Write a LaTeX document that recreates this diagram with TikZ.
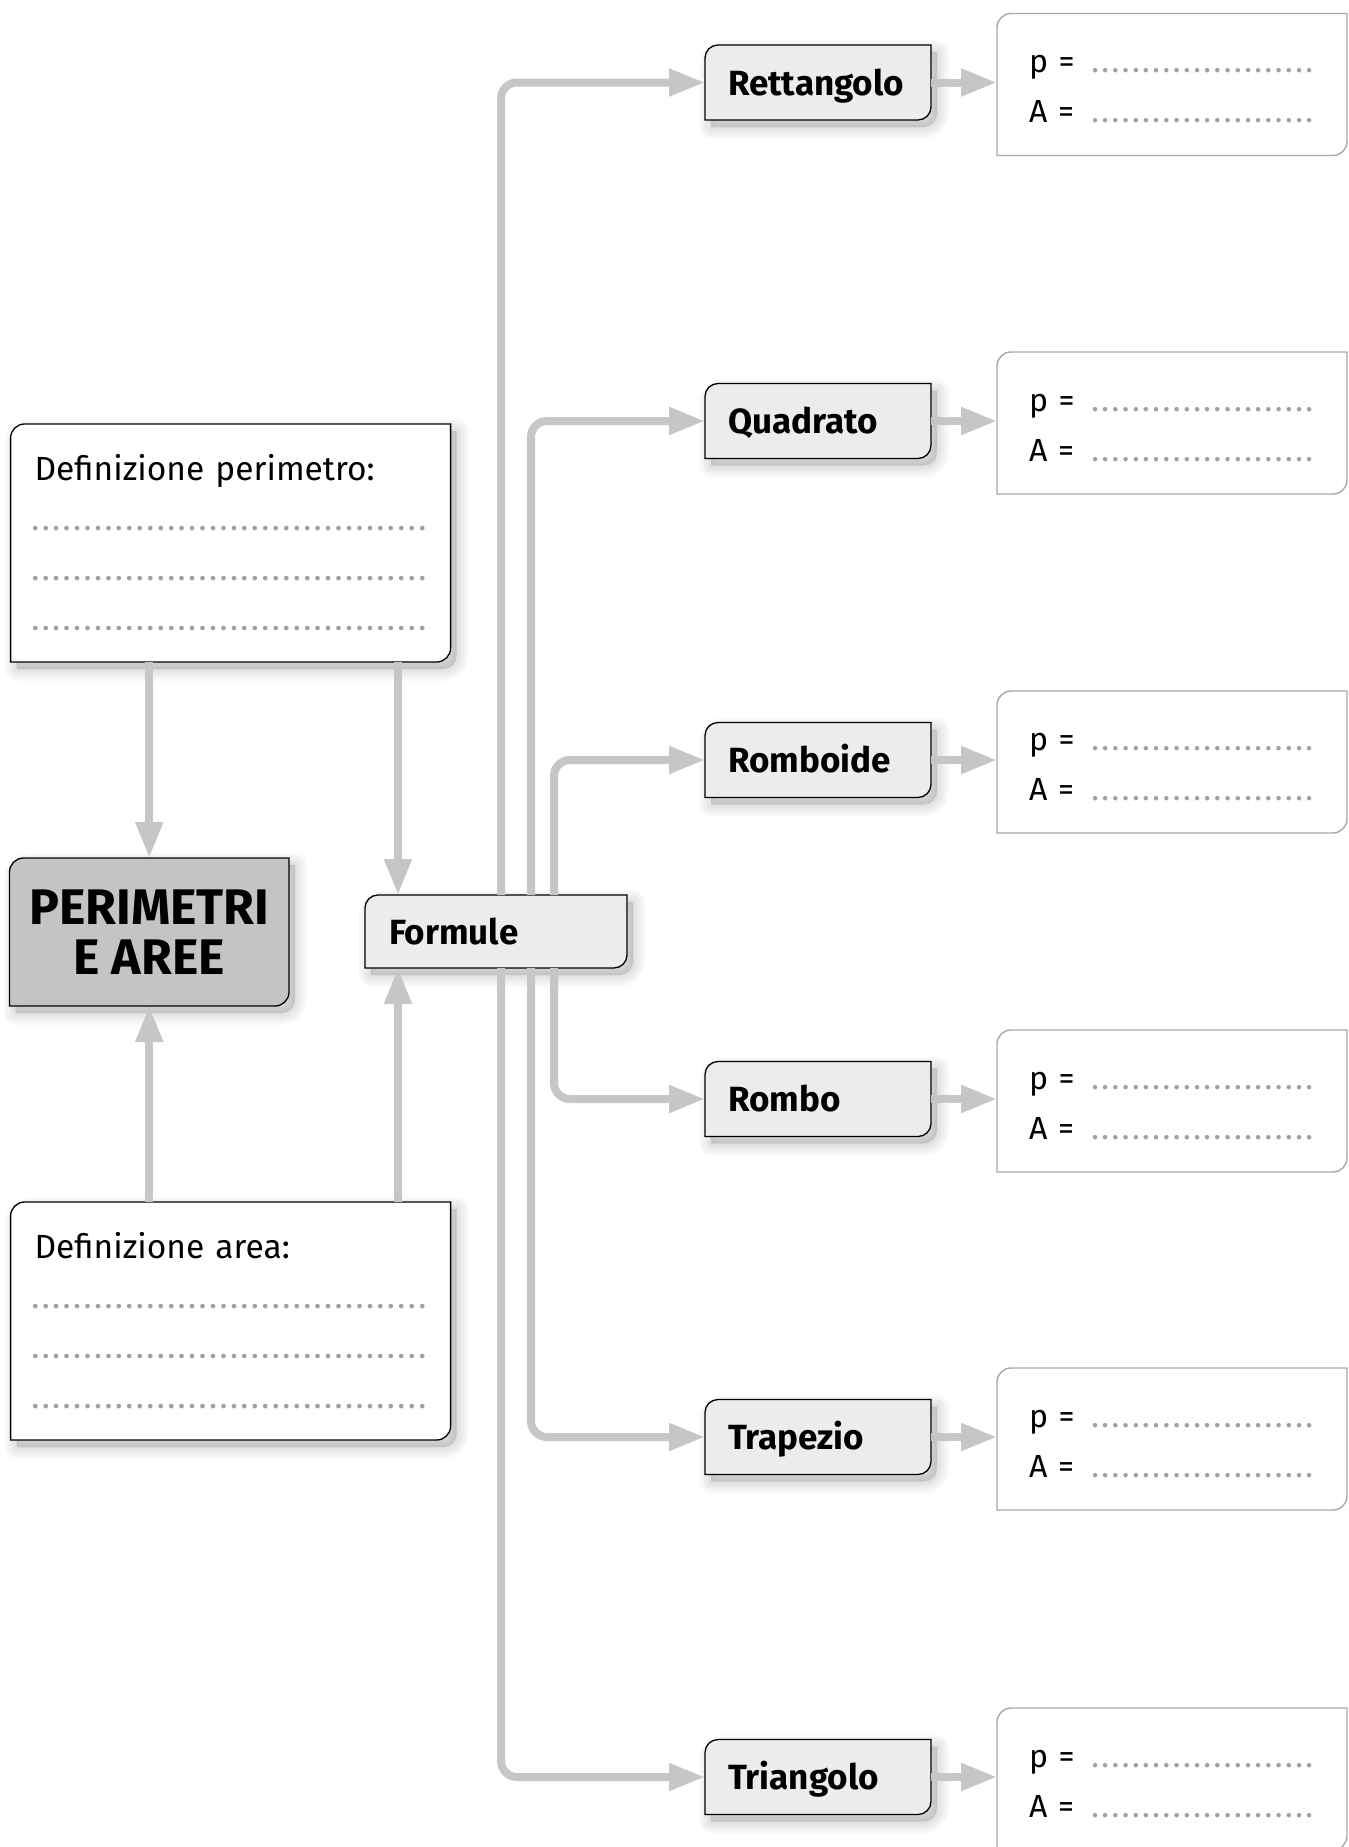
\documentclass[tikz,border=0pt]{standalone}
\usepackage{fontspec}
\setmainfont{Fira Sans}
\usetikzlibrary{arrows.meta,calc,backgrounds}

\definecolor{linkgray}{HTML}{C6C6C6}
\definecolor{shapefill}{HTML}{ECECEC}
\definecolor{titlefill}{HTML}{C4C4C4}
\definecolor{resborder}{HTML}{A8A8A8}
\definecolor{dotgray}{HTML}{A0A0A0}

% dotted writing line: [dot pitch]{length}
\newcommand\dotrule[2][10.2pt]{\leavevmode\hbox to #2{\color{dotgray}\leaders\hbox to #1{\hss.\hss}\hfil}}

% box outline with rounded top-left and bottom-right corners
% #1 path options, #2 node, #3 corner radius, #4 dx, #5 dy
\newcommand\cutbox[5]{%
  \path[#1] ([shift={(#4,#5)}]#2.south west)
    -- ([shift={(#4,#5-#3)}]#2.north west)
    arc[start angle=180,end angle=90,radius=#3]
    -- ([shift={(#4,#5)}]#2.north east)
    -- ([shift={(#4,#5+#3)}]#2.south east)
    arc[start angle=0,end angle=-90,radius=#3]
    -- cycle;}

% soft shadow under a box
\newcommand\softshadow[2]{%
  \foreach \w in {24,19,14,9,4}{%
    \cutbox{fill=black,draw=black,line width=\w pt,opacity=0.022,line join=round}{#1}{#2}{6pt}{-7pt}}}

\tikzset{
  box/.style={draw=none,outer sep=0pt,rectangle},
  shapebox/.style={box,minimum width=226pt,minimum height=75pt,inner xsep=23pt,
    text width=180pt,text height=33pt,text depth=8pt,align=left,
    font=\fontsize{35}{40}\selectfont\bfseries},
  resbox/.style={box,minimum width=350pt,minimum height=142pt,inner xsep=32pt,
    text width=286pt,align=left,font=\fontsize{32}{50}\selectfont},
  defbox/.style={box,minimum width=440pt,minimum height=238pt,inner xsep=24pt,
    text width=392pt,align=left,font=\fontsize{33.5}{50}\selectfont},
  conn/.style={draw=linkgray,line width=8pt,-{Triangle[length=36pt,width=26pt]}},
  branch/.style={conn,rounded corners=16pt},
}

\newcommand\pa[1]{\makebox[61pt][l]{#1}\dotrule{224.4pt}}
\newcommand\defline{\hspace*{-4.5pt}\dotrule[10.46pt]{397.5pt}}

\begin{document}
\begin{tikzpicture}[x=1pt,y=1pt]
\useasboundingbox (0,0) rectangle (1349,-1847);

% left column
\node[defbox,anchor=north west] (defp) at (10.6,-424)
  {Definizione perimetro:\\ \defline\\ \defline\\ \defline};
\node[box,anchor=north west,minimum width=279.5pt,minimum height=148pt,align=center,
  font=\fontsize{50}{50}\selectfont\bfseries] (perim) at (9.5,-858) {PERIMETRI\\E AREE};
\node[defbox,anchor=north west] (defa) at (10.6,-1202)
  {Definizione area:\\ \defline\\ \defline\\ \defline};
\node[shapebox,anchor=north west,minimum width=262pt,minimum height=73pt,inner xsep=24pt,
  text width=214pt] (form) at (365,-895) {Formule};

% shapes and their formula boxes
\foreach \nm/\lab/\cy in {rett/Rettangolo/82.5, quad/Quadrato/421, romb/Romboide/760,
                          rombo/Rombo/1099, trap/Trapezio/1437, tria/Triangolo/1777}{
  \node[shapebox,anchor=west] (\nm) at (705,-\cy) {\lab};
  \node[resbox,anchor=west] (r\nm) at (997,-\cy-2) {\rule{0pt}{27pt}\pa{p =}\\\pa{A =}};
}

% paper, box outlines and shadows
\begin{scope}[on background layer]
  \fill[white] (0,0) rectangle (1349,-1847);
  \foreach \n in {defp,defa,perim,form,rett,quad,romb,rombo,trap,tria}{\softshadow{\n}{13pt}}
  \cutbox{fill=white,draw=black,line width=1.3pt}{defp}{14pt}{0pt}{0pt}
  \cutbox{fill=white,draw=black,line width=1.3pt}{defa}{14pt}{0pt}{0pt}
  \cutbox{fill=titlefill,draw=black,line width=1.3pt}{perim}{14pt}{0pt}{0pt}
  \cutbox{fill=shapefill,draw=black,line width=1.3pt}{form}{13pt}{0pt}{0pt}
  \foreach \n in {rett,quad,romb,rombo,trap,tria}{
    \cutbox{fill=shapefill,draw=black,line width=1.3pt}{\n}{13pt}{0pt}{0pt}
    \cutbox{fill=white,draw=resborder,line width=1.4pt}{r\n}{14pt}{0pt}{0pt}
  }
\end{scope}

% definitions feeding the title and the formulas
\coordinate (fin) at ($(form.north west)+(33,0)$);
\coordinate (fout) at ($(form.south west)+(33,0)$);
\draw[conn] (defp.south -| perim.north) -- (perim.north);
\draw[conn] (defp.south -| fin) -- (fin);
\draw[conn] (defa.north -| perim.south) -- (perim.south);
\draw[conn] (defa.north -| fout) -- (fout);

% branches from the formulas to each shape
\draw[branch] ($(form.north west)+(136,0)$) |- (rett.west);
\draw[branch] ($(form.north west)+(166,0)$) |- (quad.west);
\draw[branch] ($(form.north west)+(189,0)$) |- (romb.west);
\draw[branch] ($(form.south west)+(189,0)$) |- (rombo.west);
\draw[branch] ($(form.south west)+(166,0)$) |- (trap.west);
\draw[branch] ($(form.south west)+(136,0)$) |- (tria.west);

% shape to formula box
\foreach \n in {rett,quad,romb,rombo,trap,tria}{
  \draw[conn] (\n.east) -- (\n.east -| r\n.west);
}
\end{tikzpicture}
\end{document}
